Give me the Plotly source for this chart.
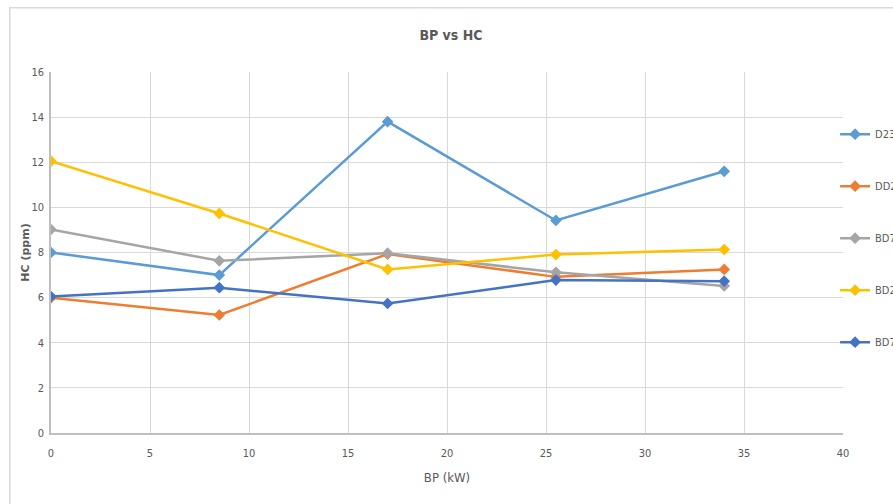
import plotly.graph_objects as go

# Brake power (kW) at each load step
bp_kw = [0, 8.5, 17, 25.5, 34]

# HC emissions (ppm) for each fuel
series_names = ["D23", "DD24", "BD75", "BD22", "BD71"]
hc_d23 = [8.0, 7.0, 13.8, 9.42, 11.6]
hc_dd24 = [6.0, 5.23, 7.93, 6.92, 7.25]
hc_bd75 = [9.02, 7.63, 7.97, 7.12, 6.52]
hc_bd22 = [12.05, 9.73, 7.25, 7.91, 8.13]
hc_bd71 = [6.05, 6.44, 5.74, 6.78, 6.73]
series_values = [hc_d23, hc_dd24, hc_bd75, hc_bd22, hc_bd71]
series_colors = ["#5B9BD5", "#ED7D31", "#A5A5A5", "#FFC000", "#4472C4"]

x_ticks = [0, 5, 10, 15, 20, 25, 30, 35, 40]
y_ticks = [0, 2, 4, 6, 8, 10, 12, 14, 16]

narrow = "DejaVu Sans Condensed, Liberation Sans Narrow, Arial Narrow, sans-serif"
label_grey = "#595959"

fig = go.Figure()
for name, vals, col in zip(series_names, series_values, series_colors):
    fig.add_trace(go.Scatter(
        x=bp_kw, y=vals, name=name, mode="lines+markers",
        line=dict(color=col, width=2.5),
        marker=dict(symbol="diamond", size=9, color=col),
        legendgroup=name,
    ))

fig.update_layout(
    width=893, height=504,
    margin=dict(l=51, r=50, t=72, b=71, autoexpand=False),
    paper_bgcolor="white", plot_bgcolor="white",
    title=dict(text="<b>BP vs HC</b>", x=0.505, xanchor="center", y=0.93, yanchor="middle",
               font=dict(family=narrow, size=14, color=label_grey)),
    showlegend=True,
    legend=dict(x=0.99, xanchor="left", y=0.868, yanchor="top",
                font=dict(family=narrow, size=11, color=label_grey),
                tracegroupgap=33, itemwidth=30, bgcolor="rgba(0,0,0,0)"),
    shapes=[dict(type="rect", xref="paper", yref="paper",
                 x0=-0.052, x1=1.2, y0=-0.3, y1=1.178,
                 line=dict(color="#d9d9d9", width=1.5), fillcolor="rgba(0,0,0,0)",
                 layer="below")],
)

fig.update_xaxes(
    range=[0, 40], tickvals=x_ticks, ticktext=[str(v) for v in x_ticks],
    showgrid=True, gridcolor="#d9d9d9", gridwidth=1,
    showline=True, linecolor="#bfbfbf", linewidth=2,
    ticks="outside", ticklen=9, tickcolor="rgba(0,0,0,0)",
    tickfont=dict(family=narrow, size=11, color=label_grey),
    title=dict(text="BP (kW)", standoff=14,
               font=dict(family=narrow, size=13, color=label_grey)),
    zeroline=False,
)
fig.update_yaxes(
    range=[0, 16], tickvals=y_ticks, ticktext=[str(v) for v in y_ticks],
    showgrid=True, gridcolor="#d9d9d9", gridwidth=1,
    showline=True, linecolor="#bfbfbf", linewidth=1.5,
    ticks="outside", ticklen=3, tickcolor="rgba(0,0,0,0)",
    tickfont=dict(family=narrow, size=11, color=label_grey),
    title=dict(text="<b>HC (ppm)</b>", standoff=0,
               font=dict(family="DejaVu Sans, sans-serif", size=11, color=label_grey)),
    zeroline=False,
)

fig.write_html("out.html")
